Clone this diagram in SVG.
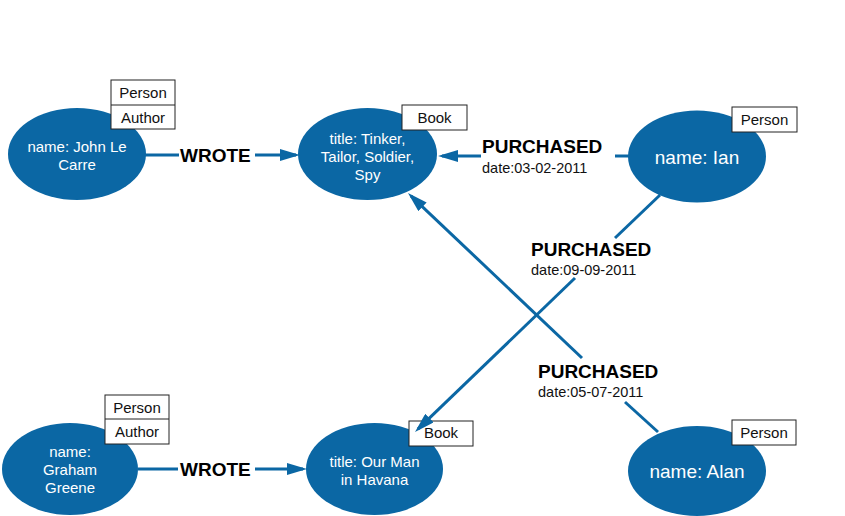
<svg xmlns="http://www.w3.org/2000/svg" width="845" height="516" viewBox="0 0 845 516">
<style>
  .node ellipse { fill: #0b67a4; }
  .nt { font-family: "Liberation Sans", Arial, sans-serif; fill: #ffffff; text-anchor: middle; font-size: 15px; }
  .nt.big { font-size: 19px; }
  .lbl rect { fill: #ffffff; stroke: #222222; stroke-width: 1; }
  .lbl line { stroke: #222222; stroke-width: 1; }
  .lt { font-family: "Liberation Sans", Arial, sans-serif; fill: #111111; text-anchor: middle; font-size: 15px; }
  .edge { stroke: #0b67a4; stroke-width: 3; fill: none; }
  .rel { font-family: "Liberation Sans", Arial, sans-serif; font-weight: bold; font-size: 19px; fill: #000000; }
  .prop { font-family: "Liberation Sans", Arial, sans-serif; font-size: 14.5px; fill: #111111; }
</style>
<defs>
  <marker id="arrow" markerUnits="userSpaceOnUse" markerWidth="20" markerHeight="12" refX="16" refY="6" orient="auto">
    <path d="M0,0 L20,6 L0,12 z" fill="#0b67a4"/>
  </marker>
</defs>
<rect width="845" height="516" fill="#ffffff"/>

<g id="john">
  <g class="node"><ellipse cx="77" cy="154" rx="69" ry="46"/></g>
  <text class="nt" x="77" y="152">name: John Le</text>
  <text class="nt" x="77" y="170">Carre</text>
  <g class="lbl">
    <rect x="111" y="80" width="64" height="49"/>
    <line x1="111" y1="105" x2="175" y2="105"/>
  </g>
  <text class="lt" x="143" y="98">Person</text>
  <text class="lt" x="143" y="123">Author</text>
</g>

<g id="tinker">
  <g class="node"><ellipse cx="367.5" cy="154" rx="69.5" ry="46"/></g>
  <text class="nt" x="367.5" y="144">title: Tinker,</text>
  <text class="nt" x="367.5" y="162">Tailor, Soldier,</text>
  <text class="nt" x="367.5" y="180">Spy</text>
  <g class="lbl"><rect x="402" y="105" width="65" height="25"/></g>
  <text class="lt" x="434.5" y="123">Book</text>
</g>

<g id="ian">
  <g class="node"><ellipse cx="697" cy="156.5" rx="69" ry="46"/></g>
  <text class="nt big" x="697" y="164">name: Ian</text>
  <g class="lbl"><rect x="732" y="107" width="65" height="25"/></g>
  <text class="lt" x="764.5" y="125">Person</text>
</g>

<g id="graham">
  <g class="node"><ellipse cx="70" cy="469" rx="68" ry="46"/></g>
  <text class="nt" x="70" y="457">name:</text>
  <text class="nt" x="70" y="475">Graham</text>
  <text class="nt" x="70" y="493">Greene</text>
  <g class="lbl">
    <rect x="105" y="395" width="64" height="49"/>
    <line x1="105" y1="419" x2="169" y2="419"/>
  </g>
  <text class="lt" x="137" y="413">Person</text>
  <text class="lt" x="137" y="437">Author</text>
</g>

<g id="ourman">
  <g class="node"><ellipse cx="374.5" cy="469" rx="68.5" ry="46"/></g>
  <text class="nt" x="374.5" y="467">title: Our Man</text>
  <text class="nt" x="374.5" y="485">in Havana</text>
  <g class="lbl"><rect x="409" y="421" width="64" height="25"/></g>
  <text class="lt" x="441" y="438">Book</text>
</g>

<g id="alan">
  <g class="node"><ellipse cx="697" cy="471" rx="69" ry="45"/></g>
  <text class="nt big" x="697" y="478">name: Alan</text>
  <g class="lbl"><rect x="732" y="420" width="64" height="25"/></g>
  <text class="lt" x="764" y="438">Person</text>
</g>

<g id="connectors">
  <line class="edge" x1="145" y1="155" x2="179" y2="155"/>
  <text class="rel" x="180" y="162">WROTE</text>
  <line class="edge" x1="255" y1="155" x2="296" y2="155" marker-end="url(#arrow)"/>

  <line class="edge" x1="138" y1="469" x2="178" y2="469"/>
  <text class="rel" x="180" y="476">WROTE</text>
  <line class="edge" x1="255" y1="469" x2="303" y2="469" marker-end="url(#arrow)"/>

  <line class="edge" x1="629" y1="156" x2="615" y2="156"/>
  <text class="rel" x="482" y="153">PURCHASED</text>
  <text class="prop" x="482" y="173">date:03-02-2011</text>
  <line class="edge" x1="481" y1="156" x2="442" y2="156" marker-end="url(#arrow)"/>

  <line class="edge" x1="660" y1="195" x2="615" y2="238"/>
  <text class="rel" x="531" y="256">PURCHASED</text>
  <text class="prop" x="531" y="275">date:09-09-2011</text>
  <line class="edge" x1="575" y1="278" x2="417.9" y2="429.2" marker-end="url(#arrow)"/>

  <line class="edge" x1="658" y1="432" x2="625" y2="402"/>
  <text class="rel" x="538" y="378">PURCHASED</text>
  <text class="prop" x="538" y="397">date:05-07-2011</text>
  <line class="edge" x1="582" y1="358" x2="410.9" y2="195.8" marker-end="url(#arrow)"/>
</g>
</svg>
